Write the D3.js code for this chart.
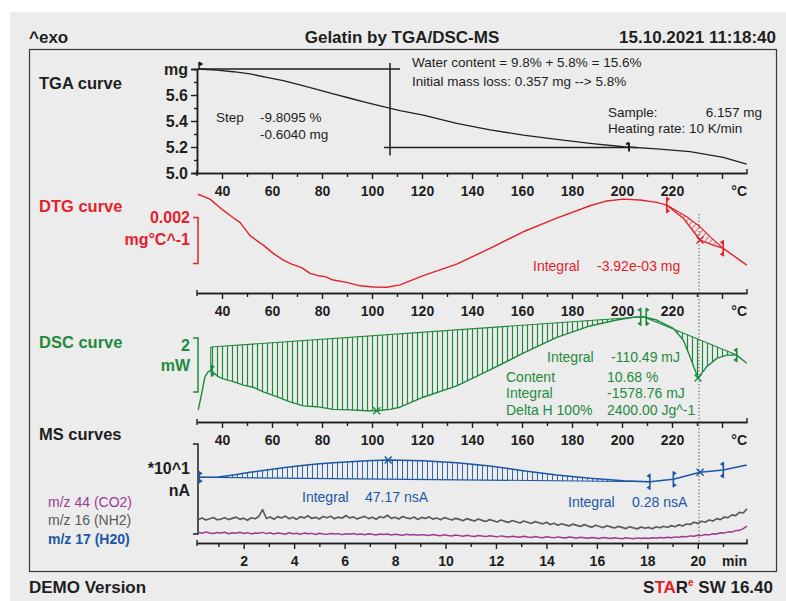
<!DOCTYPE html>
<html><head><meta charset="utf-8">
<script src="https://cdn.jsdelivr.net/npm/d3@7"></script>
<style>
html,body{margin:0;padding:0;background:#fff;}
svg{display:block;font-family:"Liberation Sans",Arial,Helvetica,sans-serif;}
</style></head><body>
<svg id="c" width="786" height="601"></svg>
<script>
// ---------------- data ----------------
const tempMajor = [40, 60, 80, 100, 120, 140, 160, 180, 200, 220, 240];
const tempMinor = [50, 70, 90, 110, 130, 150, 170, 190, 210, 230];
const timeMajor = [2, 4, 6, 8, 10, 12, 14, 16, 18, 20];
const timeMinor = [1, 3, 5, 7, 9, 11, 13, 15, 17, 19, 21];
const massMajor = [5.0, 5.2, 5.4, 5.6, 5.8];
const massMinor = [5.1, 5.3, 5.5, 5.7];

// TGA: sample mass (mg) vs temperature (°C)
const tgaTemp = [30.4, 37.9, 44.5, 51.2, 57.9, 64.5, 71.2, 77.9, 84.5, 91.2, 97.9, 104.5, 111.2, 120.5, 133.9, 147.2, 160.5, 173.9, 187.2, 200.5, 213.9, 227.2, 240.5, 249.9];
const tgaMass = [5.800, 5.792, 5.779, 5.762, 5.736, 5.710, 5.677, 5.644, 5.608, 5.575, 5.541, 5.510, 5.479, 5.446, 5.382, 5.331, 5.292, 5.259, 5.228, 5.202, 5.185, 5.164, 5.121, 5.069];
const tgaStep = {temp: 107.2, top: 5.800, bottom: 5.196, topFrom: 30.4, topTo: 111.2, bottomFrom: 104.8, bottomTo: 206.0, mark: 202.8};

// DTG: mass change rate (mg/°C)
const dtgTemp = [30.4, 35.2, 40.3, 44.5, 47.2, 51.2, 56.5, 60.5, 64.5, 67.9, 71.9, 75.2, 78.5, 81.2, 84.5, 89.9, 95.2, 100.5, 105.9, 111.2, 120.5, 133.9, 147.2, 160.5, 173.9, 187.2, 193.9, 200.5, 207.2, 213.9, 217.9, 224.5, 231.2, 236.5, 240.5, 249.9];
const dtgRate = [-0.00149, -0.00170, -0.00217, -0.00251, -0.00271, -0.00329, -0.00370, -0.00406, -0.00435, -0.00453, -0.00468, -0.00493, -0.00503, -0.00507, -0.00522, -0.00532, -0.00547, -0.00552, -0.00553, -0.00543, -0.00503, -0.00453, -0.00384, -0.00312, -0.00253, -0.00199, -0.00178, -0.00170, -0.00174, -0.00184, -0.00196, -0.00253, -0.00348, -0.00370, -0.00384, -0.00457];
const dtgBaseTemp = [217.9, 225.9, 231.2, 235.2, 240.5];
const dtgBaseRate = [-0.00196, -0.00247, -0.00290, -0.00333, -0.00384];

// DSC: heat flow (mW)
const dscTemp = [30.5, 31.9, 33.2, 34.5, 35.5, 36.5, 38.5, 40.5, 44.5, 48.5, 52.5, 56.5, 61.9, 67.2, 72.5, 77.9, 84.5, 91.2, 97.9, 101.9, 107.2, 111.2, 120.5, 133.9, 147.2, 160.5, 173.9, 187.2, 197.9, 204.5, 208.5, 213.9, 220.5, 224.5, 227.2, 230.4, 233.9, 237.9, 241.9, 245.9, 249.9];
const dscHeat = [-2.96, -2.34, -1.73, -1.54, -1.51, -1.57, -1.73, -1.81, -1.91, -2.04, -2.12, -2.29, -2.47, -2.66, -2.81, -2.84, -2.94, -2.96, -2.99, -2.99, -2.94, -2.86, -2.49, -2.07, -1.48, -0.86, -0.27, 0.15, 0.37, 0.47, 0.49, 0.37, 0.06, -0.37, -0.99, -1.78, -1.36, -1.05, -0.93, -0.93, -1.23];
const dscBase1Temp = [35.5, 208.5], dscBase1Heat = [-0.63, 0.49];
const dscBase2Temp = [208.5, 245.9], dscBase2Heat = [0.49, -0.93];

// MS: ion currents (nA) vs time (min)
const msTime = [0.20, 0.93, 1.59, 2.25, 2.91, 3.57, 4.23, 4.89, 5.55, 6.21, 6.88, 7.73, 9.12, 10.44, 11.76, 13.08, 14.41, 15.73, 17.05, 18.10, 19.03, 20.09, 21.01, 21.94];
const ms17 = [7.30, 7.30, 7.56, 7.86, 8.11, 8.37, 8.59, 8.78, 8.92, 9.03, 9.14, 9.22, 9.14, 8.92, 8.56, 8.03, 7.56, 7.19, 6.92, 6.81, 7.08, 7.86, 8.11, 8.67];
const msBase1Time = [0.20, 18.10], msBase1Val = [7.30, 6.81];
// m/z 16 and m/z 44, sampled every 0.15 min from 0.20 min
const ms16 = [2.62, 2.78, 2.55, 2.70, 2.84, 2.58, 2.66, 2.81, 2.60, 2.74,
  2.87, 2.63, 2.76, 2.52, 2.80, 2.69, 2.95, 3.70, 2.72, 2.88,
  2.64, 2.93, 2.77, 2.99, 2.70, 2.86, 2.62, 2.91, 2.79, 3.02,
  2.73, 2.85, 2.66, 2.94, 2.81, 2.97, 2.69, 2.88, 2.75, 3.05,
  2.78, 2.90, 2.68, 2.83, 2.96, 2.71, 2.87, 2.64, 2.92, 2.80,
  3.08, 2.74, 2.86, 2.67, 2.95, 2.79, 2.70, 2.89, 2.62, 2.84,
  2.73, 2.90, 2.66, 2.78, 2.58, 2.82, 2.69, 2.55, 2.74, 2.63,
  2.48, 2.71, 2.57, 2.44, 2.66, 2.52, 2.39, 2.60, 2.47, 2.34,
  2.55, 2.41, 2.29, 2.50, 2.36, 2.22, 2.44, 2.30, 2.17, 2.38,
  2.25, 2.12, 2.31, 2.05, 2.20, 1.98, 2.14, 2.02, 1.90, 2.10,
  1.96, 1.84, 2.04, 1.88, 1.76, 1.97, 1.83, 1.71, 1.92, 1.79,
  1.66, 1.85, 1.73, 1.60, 1.81, 1.68, 1.57, 1.78, 1.64, 1.74,
  1.59, 1.80, 1.69, 1.86, 1.72, 1.93, 1.81, 2.02, 1.89, 2.11,
  2.06, 2.30, 2.18, 2.42, 2.31, 2.56, 2.44, 2.71, 2.60, 2.88,
  2.82, 3.12, 3.04, 3.40, 3.33, 3.80];
const ms44 = [1.18, 1.08, 1.22, 1.12, 1.05, 1.17, 1.10, 1.20, 1.03, 1.14,
  1.09, 1.19, 1.06, 1.15, 1.01, 1.12, 1.08, 1.18, 1.04, 1.13,
  1.00, 1.11, 1.06, 0.98, 1.14, 1.03, 1.09, 0.97, 1.10, 1.02,
  1.07, 0.95, 1.08, 1.01, 0.96, 1.06, 0.99, 1.04, 0.93, 1.02,
  0.97, 1.05, 0.94, 1.00, 0.91, 1.03, 0.96, 0.90, 1.01, 0.94,
  0.99, 0.88, 0.96, 0.92, 0.85, 0.97, 0.90, 0.94, 0.86, 0.93,
  0.89, 0.83, 0.94, 0.87, 0.80, 0.91, 0.84, 0.78, 0.88, 0.82,
  0.76, 0.86, 0.79, 0.73, 0.84, 0.77, 0.71, 0.81, 0.74, 0.68,
  0.79, 0.72, 0.66, 0.76, 0.70, 0.64, 0.74, 0.67, 0.61, 0.72,
  0.65, 0.59, 0.70, 0.63, 0.57, 0.68, 0.61, 0.55, 0.66, 0.60,
  0.54, 0.64, 0.58, 0.52, 0.62, 0.56, 0.50, 0.61, 0.55, 0.49,
  0.59, 0.53, 0.48, 0.58, 0.52, 0.47, 0.57, 0.51, 0.55, 0.49,
  0.58, 0.53, 0.61, 0.56, 0.65, 0.59, 0.68, 0.63, 0.73, 0.69,
  0.79, 0.74, 0.86, 0.82, 0.94, 0.90, 1.03, 1.00, 1.13, 1.10,
  1.24, 1.22, 1.38, 1.40, 1.60, 1.88];
const msNoiseTime = ms16.map((_, i) => +(0.20 + 0.15 * i).toFixed(2));

// ---------------- scales ----------------
const xT = d3.scaleLinear().domain([30, 250]).range([197, 747]);
const xTime = d3.scaleLinear().domain([0.15, 21.95]).range([197, 747]);
const yTGA = d3.scaleLinear().domain([5.0, 5.8]).range([173, 69]);
const yDTG = d3.scaleLinear().domain([-0.006, 0]).range([298, 160]);
const yDSC = d3.scaleLinear().domain([-3, 1]).range([411, 303]);
const yMS = d3.scaleLinear().domain([0, 11]).range([543, 444]);

const dark = '#1e1e1e';
const RED = '#e3222b', GREEN = '#1f8a3b', BLUE = '#1c57a5', GRAY = '#5a5a5a', PURPLE = '#9b3a93';

const svg = d3.select('#c');

// page background and frame
svg.append('rect').attr('x', 10).attr('y', 12).attr('width', 776).attr('height', 589).attr('fill', '#ececec');
svg.append('rect').attr('x', 29.5).attr('y', 49.5).attr('width', 747).attr('height', 522)
  .attr('fill', 'none').attr('stroke', '#3a3a3a').attr('stroke-width', 1.2);

// hatch patterns
const defs = svg.append('defs');
function vHatch(id, color, w) {
  const p = defs.append('pattern').attr('id', id).attr('patternUnits', 'userSpaceOnUse')
    .attr('width', 5).attr('height', 10);
  p.append('line').attr('x1', 2.5).attr('x2', 2.5).attr('y1', 0).attr('y2', 10)
    .attr('stroke', color).attr('stroke-width', w);
}
vHatch('hG', GREEN, 1.2);
vHatch('hB', BLUE, 0.9);
const pr = defs.append('pattern').attr('id', 'hR').attr('patternUnits', 'userSpaceOnUse')
  .attr('width', 4.5).attr('height', 4.5).attr('patternTransform', 'rotate(40)');
pr.append('line').attr('x1', 2).attr('x2', 2).attr('y1', 0).attr('y2', 4.5).attr('stroke', RED).attr('stroke-width', 0.7);

// helpers
function txt(x, y, s, o = {}) {
  const size = o.size || 14;
  return svg.append('text').attr('x', x).attr('y', y + size * 0.35)
    .attr('font-size', size).attr('font-weight', o.bold ? 'bold' : 'normal')
    .attr('fill', o.color || dark).attr('text-anchor', o.anchor || 'start').text(s);
}
function pts(xs, ys, sx, sy) { return xs.map((v, i) => [sx(v), sy(ys[i])]); }
function curve(xs, ys, sx, sy, color, w) {
  svg.append('path').attr('d', d3.line()(pts(xs, ys, sx, sy)))
    .attr('fill', 'none').attr('stroke', color).attr('stroke-width', w).attr('stroke-linejoin', 'round');
}
function region(xs, ys, bx, by, sx, sy, fill, color) {
  const lo = bx[0], hi = bx[bx.length - 1];
  const top = [];
  xs.forEach((v, i) => { if (v >= lo - 1e-9 && v <= hi + 1e-9) top.push([sx(v), sy(ys[i])]); });
  const base = pts(bx, by, sx, sy).reverse();
  svg.append('path').attr('d', d3.line()(top.concat(base)) + 'Z')
    .attr('fill', `url(#${fill})`).attr('stroke', 'none');
  svg.append('path').attr('d', d3.line()(pts(bx, by, sx, sy)))
    .attr('fill', 'none').attr('stroke', color).attr('stroke-width', 1.1);
  // closing edge at the start of the range
  svg.append('line').attr('x1', top[0][0]).attr('x2', base[base.length - 1][0])
    .attr('y1', top[0][1]).attr('y2', base[base.length - 1][1]).attr('stroke', color).attr('stroke-width', 1.1);
}
function bound(x, y, h, color, dir) {
  const g = svg.append('g').attr('fill', color).attr('stroke', color);
  g.append('line').attr('x1', x).attr('x2', x).attr('y1', y - h).attr('y2', y + h).attr('stroke-width', 1.6);
  [y - h, y + h].forEach(yy => {
    const s = yy < y ? 1 : -1;
    g.append('path').attr('stroke', 'none')
      .attr('d', `M${x},${yy} L${x + dir * 3.5},${yy + s * 2} L${x},${yy + s * 4.5}Z`);
  });
}
function xMark(x, y, color) {
  svg.append('path').attr('d', `M${x - 3.5},${y - 3.5}L${x + 3.5},${y + 3.5}M${x - 3.5},${y + 3.5}L${x + 3.5},${y - 3.5}`)
    .attr('stroke', color).attr('stroke-width', 1.4);
}
function bottomAxis(scale, y, major, minor, fmt, unit) {
  const gm = svg.append('g').attr('transform', `translate(0,${y})`)
    .call(d3.axisBottom(scale).tickValues(minor).tickSize(4).tickSizeOuter(0).tickFormat(''));
  const g = svg.append('g').attr('transform', `translate(0,${y})`)
    .call(d3.axisBottom(scale).tickValues(major).tickSize(6).tickSizeOuter(0).tickPadding(7).tickFormat(fmt));
  [gm, g].forEach(a => {
    a.select('.domain').attr('stroke', dark).attr('stroke-width', 1.5);
    a.selectAll('.tick line').attr('stroke', dark).attr('stroke-width', 1.4);
  });
  g.selectAll('.tick text').attr('font-size', 14).attr('font-weight', 'bold')
    .attr('fill', dark).attr('font-family', null);
  const [r0, r1] = scale.range();
  svg.append('path').attr('d', `M${r0},${y - 3}V${y + 3}M${r1},${y - 4}V${y}`)
    .attr('stroke', dark).attr('stroke-width', 1.4);
  txt(r1, y + 18, unit, {size: 14, bold: true, anchor: 'end'});
}
function scaleBar(x, y0, y1, color) {
  svg.append('path').attr('d', `M${x - 5},${y0}H${x}V${y1}H${x - 5}`)
    .attr('fill', 'none').attr('stroke', color).attr('stroke-width', 1.5);
}

// ---------------- header / footer ----------------
txt(29, 37, '^exo', {size: 17, bold: true});
txt(402, 37, 'Gelatin by TGA/DSC-MS', {size: 17, bold: true, anchor: 'middle'});
txt(776, 37, '15.10.2021 11:18:40', {size: 17, bold: true, anchor: 'end'});
txt(29, 587, 'DEMO Version', {size: 17, bold: true});
const star = svg.append('text').attr('x', 773).attr('y', 587 + 6).attr('font-size', 17)
  .attr('font-weight', 'bold').attr('text-anchor', 'end').attr('fill', dark);
star.append('tspan').text('S');
star.append('tspan').attr('fill', RED).text('TA');
star.append('tspan').text('R');
star.append('tspan').attr('fill', RED).attr('font-size', 10).attr('dy', -7).text('e');
star.append('tspan').attr('dy', 7).text(' SW 16.40');

// ---------------- panel labels ----------------
txt(39, 83, 'TGA curve', {size: 16.5, bold: true});
txt(39, 206, 'DTG curve', {size: 16.5, bold: true, color: RED});
txt(39, 342, 'DSC curve', {size: 16.5, bold: true, color: GREEN});
txt(39, 434, 'MS curves', {size: 16.5, bold: true});

// ---------------- TGA ----------------
const gyMin = svg.append('g').attr('transform', 'translate(197,0)')
  .call(d3.axisLeft(yTGA).tickValues(massMinor).tickSize(3).tickFormat(''));
const gy = svg.append('g').attr('transform', 'translate(197,0)')
  .call(d3.axisLeft(yTGA).tickValues(massMajor).tickSize(6).tickPadding(3)
    .tickFormat(d => d === 5.8 ? 'mg' : d.toFixed(1)));
[gyMin, gy].forEach(a => {
  a.select('.domain').attr('stroke', dark).attr('stroke-width', 1.5);
  a.selectAll('.tick line').attr('stroke', dark).attr('stroke-width', 1.4);
});
gy.selectAll('.tick text').attr('font-size', 16).attr('font-weight', 'bold').attr('fill', dark).attr('font-family', null);
bottomAxis(xT, 173, tempMajor, tempMinor, d => d === 240 ? '' : d, '°C');

// step evaluation lines
const st = tgaStep;
svg.append('path').attr('d',
  `M${xT(st.topFrom)},${yTGA(st.top)}H${xT(st.topTo)}` +
  `M${xT(st.temp)},${yTGA(st.top) - 6}V${yTGA(st.bottom) + 8}` +
  `M${xT(st.bottomFrom)},${yTGA(st.bottom)}H${xT(st.bottomTo)}`)
  .attr('stroke', dark).attr('stroke-width', 1.5).attr('fill', 'none');
curve(tgaTemp, tgaMass, xT, yTGA, '#222', 1.3);
svg.append('path').attr('d', `M${xT(30.4) + 1},${yTGA(5.8) - 7}V${yTGA(5.8)}M${xT(30.4) + 1},${yTGA(5.8) - 7}l3,2l-3,2`)
  .attr('stroke', dark).attr('fill', dark).attr('stroke-width', 1.4);
svg.append('path').attr('d', `M${xT(st.mark)},${yTGA(st.bottom) - 5}V${yTGA(st.bottom) + 4}M${xT(st.mark)},${yTGA(st.bottom) - 5}l-3,2`)
  .attr('stroke', dark).attr('stroke-width', 2).attr('fill', 'none');

txt(216, 117, 'Step', {size: 13.5});
txt(260, 117, '-9.8095 %', {size: 13.5});
txt(260, 134, '-0.6040 mg', {size: 13.5});
txt(412, 62, 'Water content = 9.8% + 5.8% = 15.6%', {size: 13.5});
txt(412, 81, 'Initial mass loss: 0.357 mg --> 5.8%', {size: 13.5});
txt(608, 112, 'Sample:', {size: 13.5});
txt(762, 112, '6.157 mg', {size: 13.5, anchor: 'end'});
txt(608, 128, 'Heating rate: 10 K/min', {size: 13.5});

// ---------------- DTG ----------------
bottomAxis(xT, 293, tempMajor, tempMinor, d => d === 240 ? '' : d, '°C');
scaleBar(198, yDTG(-0.0025), yDTG(-0.0045), RED);
txt(190, yDTG(-0.0025), '0.002', {size: 16, bold: true, color: RED, anchor: 'end'});
txt(190, yDTG(-0.0025) + 22, 'mg°C^-1', {size: 16, bold: true, color: RED, anchor: 'end'});
region(dtgTemp, dtgRate, dtgBaseTemp, dtgBaseRate, xT, yDTG, 'hR', RED);
curve(dtgTemp, dtgRate, xT, yDTG, RED, 1.4);
bound(xT(217.9), yDTG(-0.00196), 8, RED, 1);
bound(xT(240.5), yDTG(-0.00384), 8, RED, -1);
xMark(xT(231.2), yDTG(-0.00348), RED);
txt(533, 266, 'Integral', {size: 14, color: RED});
txt(597, 266, '-3.92e-03 mg', {size: 14, color: RED});

// dotted cursor
svg.append('line').attr('x1', xT(230.8)).attr('x2', xT(230.8)).attr('y1', 214).attr('y2', 543)
  .attr('stroke', '#444').attr('stroke-width', 1).attr('stroke-dasharray', '1.2,2.2');

// ---------------- DSC ----------------
bottomAxis(xT, 422, tempMajor, tempMinor, d => d === 240 ? '' : d, '°C');
scaleBar(198, yDSC(-0.3), yDSC(-2.3), GREEN);
txt(190, yDSC(-0.3) + 7, '2', {size: 16, bold: true, color: GREEN, anchor: 'end'});
txt(190, yDSC(-0.3) + 27, 'mW', {size: 16, bold: true, color: GREEN, anchor: 'end'});
region(dscTemp, dscHeat, dscBase1Temp, dscBase1Heat, xT, yDSC, 'hG', GREEN);
region(dscTemp, dscHeat, dscBase2Temp, dscBase2Heat, xT, yDSC, 'hG', GREEN);
curve(dscTemp, dscHeat, xT, yDSC, GREEN, 1.4);
bound(xT(35.8), yDSC(-1.51), 6, GREEN, 1);
bound(xT(207.5), yDSC(0.49), 9, GREEN, -1);
bound(xT(209.7), yDSC(0.49), 9, GREEN, 1);
bound(xT(245.9), yDSC(-0.93), 7, GREEN, -1);
xMark(xT(101.9), yDSC(-2.99), GREEN);
xMark(xT(230.4), yDSC(-1.78), GREEN);
txt(547, 357, 'Integral', {size: 14, color: GREEN});
txt(611, 357, '-110.49 mJ', {size: 14, color: GREEN});
txt(506, 377, 'Content', {size: 14, color: GREEN});
txt(607, 377, '10.68 %', {size: 14, color: GREEN});
txt(506, 393, 'Integral', {size: 14, color: GREEN});
txt(607, 393, '-1578.76 mJ', {size: 14, color: GREEN});
txt(506, 410, 'Delta H 100%', {size: 14, color: GREEN});
txt(607, 410, '2400.00 Jg^-1', {size: 14, color: GREEN});

// ---------------- MS ----------------
bottomAxis(xTime, 543, timeMajor, timeMinor, d => d, 'min');
scaleBar(198, yMS(11), yMS(1), dark);
txt(190, 468, '*10^1', {size: 16, bold: true, anchor: 'end'});
txt(190, 490, 'nA', {size: 16, bold: true, anchor: 'end'});
txt(48, 502, 'm/z 44 (CO2)', {size: 14, color: PURPLE});
txt(48, 520, 'm/z 16 (NH2)', {size: 14, color: GRAY});
txt(48, 539, 'm/z 17 (H20)', {size: 14, bold: true, color: BLUE});

curve(msNoiseTime, ms16, xTime, yMS, GRAY, 1.7);
curve(msNoiseTime, ms44, xTime, yMS, PURPLE, 1.5);
region(msTime, ms17, msBase1Time, msBase1Val, xTime, yMS, 'hB', BLUE);
curve(msTime, ms17, xTime, yMS, BLUE, 1.5);
bound(xTime(0.20) + 1, yMS(7.30), 6, BLUE, 1);
bound(xTime(18.10), yMS(6.81), 8, BLUE, -1);
bound(xTime(19.03), yMS(7.08), 8, BLUE, 1);
bound(xTime(21.01), yMS(8.11), 8, BLUE, -1);
xMark(xTime(7.73), yMS(9.22), BLUE);
xMark(xTime(20.09), yMS(7.86), BLUE);
txt(302, 497, 'Integral', {size: 14, color: BLUE});
txt(365, 497, '47.17 nsA', {size: 14, color: BLUE});
txt(568, 502, 'Integral', {size: 14, color: BLUE});
txt(632, 502, '0.28 nsA', {size: 14, color: BLUE});
</script>
</body></html>
